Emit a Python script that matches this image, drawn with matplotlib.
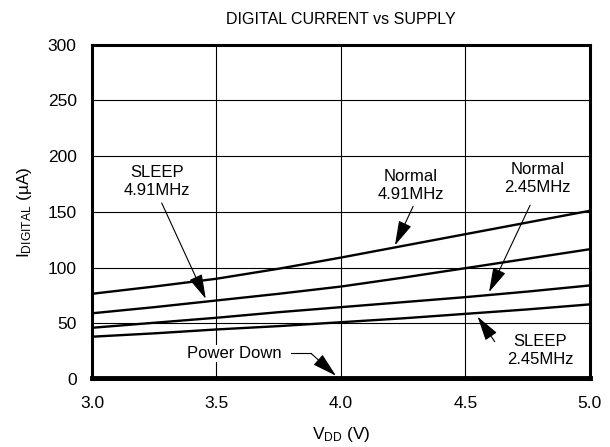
import matplotlib
matplotlib.use('Agg')
import matplotlib.pyplot as plt

plt.rcParams['font.family'] = ['Liberation Sans', 'DejaVu Sans']
plt.rcParams['mathtext.fontset'] = 'custom'
plt.rcParams['mathtext.rm'] = 'Liberation Sans'
plt.rcParams['mathtext.it'] = 'Liberation Sans:italic'

# supply voltage (V)
vdd = [3.0, 3.25, 3.5, 3.75, 4.0, 4.25, 4.5, 4.75, 5.0]

# digital current (uA)
normal_491 = [76.5, 83, 90, 99, 109, 119.5, 130, 140.5, 151]
sleep_491 = [59, 64.5, 70.5, 76.5, 83, 91, 99.5, 108, 116.5]
normal_245 = [46, 50.5, 55, 60, 64.5, 69, 73.5, 78.5, 84]
sleep_245 = [38, 41, 44.5, 47.5, 51, 54.5, 58.5, 62.5, 67]
power_down = [0.5] * len(vdd)

fig = plt.figure(figsize=(6.1, 4.47), dpi=100)
ax = fig.add_axes([0.1508, 0.152, 0.8162, 0.748])

for series in (normal_491, sleep_491, normal_245, sleep_245):
    ax.plot(vdd, series, color='black', lw=1.7)
ax.plot(vdd, power_down, color='black', lw=3.5, clip_on=False)

ax.set_xlim(3.0, 5.0)
ax.set_ylim(0, 300)
ax.set_xticks([3.0, 3.5, 4.0, 4.5, 5.0])
ax.set_xticklabels(['3.0', '3.5', '4.0', '4.5', '5.0'])
ax.set_yticks(range(0, 301, 50))
ax.tick_params(length=0, labelsize=12.5)
ax.tick_params(axis='x', pad=12)
ax.tick_params(axis='y', pad=11)
ax.grid(True, color='black', lw=0.8)
for s in ax.spines.values():
    s.set_linewidth(2.2)

ax.set_title('DIGITAL CURRENT vs SUPPLY', fontsize=11.5, pad=15)
ax.set_xlabel(r'V$_{\rm DD}$ (V)', fontsize=12.5, labelpad=10)
ax.set_ylabel(r'I$_{\rm DIGITAL}$ (µA)', fontsize=12.5, labelpad=10)

arrow = dict(arrowstyle='-|>,head_length=0.9,head_width=0.25', color='black',
             lw=0.8, mutation_scale=17, shrinkA=0, shrinkB=0)
fs = 12
box = dict(fc='white', ec='none', pad=1)

ax.text(3.26, 177, 'SLEEP\n4.91MHz', ha='center', va='center', fontsize=fs,
        linespacing=1.25, bbox=box)
ax.annotate('', xy=(3.457, 72), xytext=(3.28, 158), arrowprops=arrow)

ax.text(4.28, 174, 'Normal\n4.91MHz', ha='center', va='center', fontsize=fs,
        linespacing=1.25, bbox=box)
ax.annotate('', xy=(4.217, 120), xytext=(4.29, 155), arrowprops=arrow)

ax.text(4.79, 180, 'Normal\n2.45MHz', ha='center', va='center', fontsize=fs,
        linespacing=1.25, bbox=box)
ax.annotate('', xy=(4.595, 78), xytext=(4.76, 156), arrowprops=arrow)

ax.text(4.80, 26, 'SLEEP\n2.45MHz', ha='center', va='center', fontsize=fs,
        linespacing=1.25, bbox=box)
ax.annotate('', xy=(4.549, 56), xytext=(4.618, 33.5), arrowprops=arrow)

ax.text(3.57, 23, 'Power Down', ha='center', va='center', fontsize=fs, bbox=box)
ax.plot([3.80, 3.88], [23, 23], color='black', lw=0.8)
ax.annotate('', xy=(3.98, 3), xytext=(3.88, 23), arrowprops=arrow)

fig.savefig('out.png', dpi=100)
